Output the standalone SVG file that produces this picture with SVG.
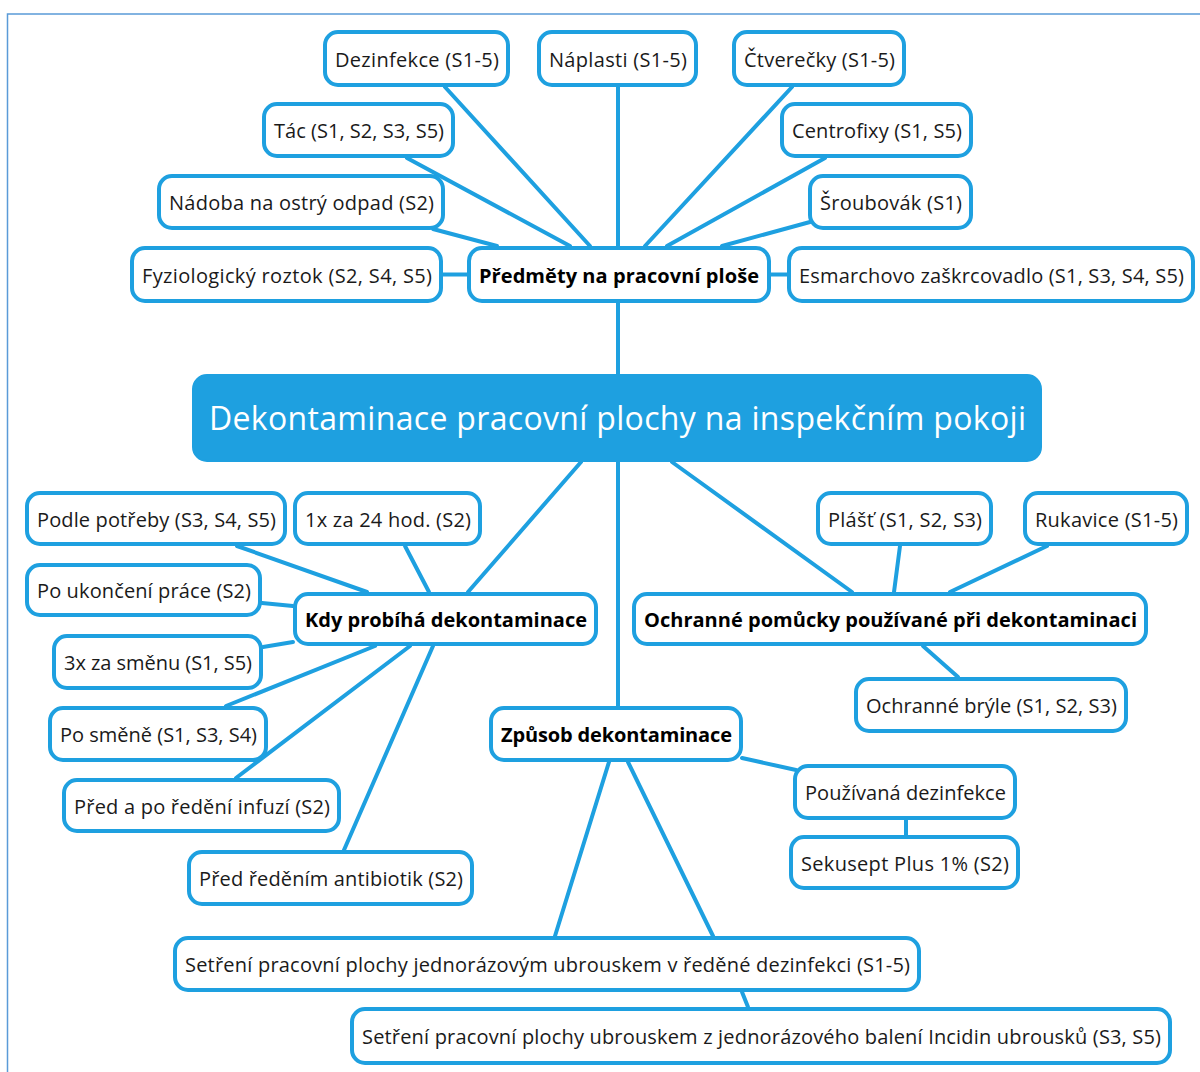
<svg xmlns="http://www.w3.org/2000/svg" width="1200" height="1072" viewBox="0 0 1200 1072">
<style>
.n rect{fill:#fff;stroke:#1ea0e0;stroke-width:4}
.n text{font-family:"Open Sans","Noto Sans",sans-serif;font-size:20px;fill:#1a1a1a;text-anchor:middle}
.n text.b{font-weight:bold;fill:#000}
#center rect{fill:#1ea0e0;stroke:#1ea0e0;stroke-width:2}
#center text{font-family:"Open Sans","Noto Sans",sans-serif;font-size:32px;fill:#fff;text-anchor:middle}
#connectors line{stroke:#1ea0e0;stroke-width:4;stroke-linecap:round}
</style>
<rect x="0" y="0" width="1200" height="1072" fill="#fff"/>
<rect x="7.5" y="14" width="1300" height="1200" fill="none" stroke="#5a9bd8" stroke-width="1.5"/>
<g id="connectors">
<line x1="445" y1="87" x2="590" y2="246"/>
<line x1="618" y1="87" x2="618" y2="246"/>
<line x1="792" y1="87" x2="645" y2="246"/>
<line x1="407" y1="158" x2="570" y2="246"/>
<line x1="825" y1="158" x2="667" y2="246"/>
<line x1="433" y1="229" x2="497" y2="246"/>
<line x1="810" y1="222" x2="722" y2="246"/>
<line x1="443" y1="274.5" x2="467" y2="274.5"/>
<line x1="771" y1="274.5" x2="787" y2="274.5"/>
<line x1="618" y1="303" x2="618" y2="374"/>
<line x1="581" y1="462" x2="468" y2="592"/>
<line x1="618" y1="462" x2="618" y2="706"/>
<line x1="672" y1="462" x2="852" y2="592"/>
<line x1="237" y1="546" x2="367" y2="592"/>
<line x1="405" y1="546" x2="429" y2="592"/>
<line x1="262" y1="603" x2="293" y2="606"/>
<line x1="263" y1="647" x2="293" y2="642"/>
<line x1="226" y1="706" x2="375" y2="646"/>
<line x1="236" y1="778" x2="410" y2="646"/>
<line x1="344" y1="850" x2="433" y2="646"/>
<line x1="900" y1="546" x2="894" y2="592"/>
<line x1="1047" y1="546" x2="950" y2="592"/>
<line x1="923" y1="646" x2="958" y2="677"/>
<line x1="742" y1="758" x2="796" y2="770"/>
<line x1="906" y1="820" x2="906" y2="835"/>
<line x1="609" y1="762" x2="555" y2="936"/>
<line x1="628" y1="762" x2="713" y2="936"/>
<line x1="742" y1="992" x2="748" y2="1007"/>
</g>
<g id="n-dezinfekce" class="n"><rect x="325" y="32" width="183" height="53" rx="13"/><text x="417" y="66.5" textLength="164">Dezinfekce (S1-5)</text></g>
<g id="n-naplasti" class="n"><rect x="539" y="32" width="157" height="53" rx="13"/><text x="618" y="66.5" textLength="138">Náplasti (S1-5)</text></g>
<g id="n-ctverecky" class="n"><rect x="734" y="32" width="170" height="53" rx="13"/><text x="819.5" y="66.5" textLength="151">Čtverečky (S1-5)</text></g>
<g id="n-tac" class="n"><rect x="264" y="104" width="189" height="52" rx="13"/><text x="359" y="138" textLength="170">Tác (S1, S2, S3, S5)</text></g>
<g id="n-centrofixy" class="n"><rect x="782" y="104" width="189" height="52" rx="13"/><text x="877" y="138" textLength="170">Centrofixy (S1, S5)</text></g>
<g id="n-nadoba" class="n"><rect x="159" y="176" width="284" height="52" rx="13"/><text x="301.5" y="210" textLength="265">Nádoba na ostrý odpad (S2)</text></g>
<g id="n-sroubovak" class="n"><rect x="810" y="176" width="161" height="52" rx="13"/><text x="891" y="210" textLength="142">Šroubovák (S1)</text></g>
<g id="n-fyziologicky" class="n"><rect x="132" y="248" width="309" height="53" rx="13"/><text x="287" y="282.5" textLength="290">Fyziologický roztok (S2, S4, S5)</text></g>
<g id="n-predmety" class="n"><rect x="469" y="248" width="300" height="53" rx="13"/><text class="b" x="619" y="282.5" textLength="280">Předměty na pracovní ploše</text></g>
<g id="n-esmarchovo" class="n"><rect x="789" y="248" width="404" height="53" rx="13"/><text x="991.5" y="282.5" textLength="385">Esmarchovo zaškrcovadlo (S1, S3, S4, S5)</text></g>
<g id="center"><rect x="193" y="375" width="848" height="86" rx="14"/><text x="617.5" y="430" textLength="817">Dekontaminace pracovní plochy na inspekčním pokoji</text></g>
<g id="n-podle" class="n"><rect x="27" y="493" width="258" height="51" rx="13"/><text x="156.5" y="526.5" textLength="239">Podle potřeby (S3, S4, S5)</text></g>
<g id="n-24hod" class="n"><rect x="295" y="493" width="185" height="51" rx="13"/><text x="388" y="526.5" textLength="166">1x za 24 hod. (S2)</text></g>
<g id="n-poukonceni" class="n"><rect x="27" y="565" width="233" height="50" rx="13"/><text x="144" y="598" textLength="214">Po ukončení práce (S2)</text></g>
<g id="n-kdy" class="n"><rect x="295" y="594" width="301" height="50" rx="13"/><text class="b" x="446" y="627" textLength="282">Kdy probíhá dekontaminace</text></g>
<g id="n-3x" class="n"><rect x="54" y="636" width="207" height="52" rx="13"/><text x="158" y="670" textLength="188">3x za směnu (S1, S5)</text></g>
<g id="n-posmene" class="n"><rect x="50" y="708" width="216" height="52" rx="13"/><text x="158.5" y="742" textLength="197">Po směně (S1, S3, S4)</text></g>
<g id="n-predapo" class="n"><rect x="64" y="780" width="275" height="51" rx="13"/><text x="202" y="813.5" textLength="256">Před a po ředění infuzí (S2)</text></g>
<g id="n-predredenim" class="n"><rect x="189" y="852" width="283" height="52" rx="13"/><text x="331" y="886" textLength="264">Před ředěním antibiotik (S2)</text></g>
<g id="n-plast" class="n"><rect x="818" y="493" width="173" height="51" rx="13"/><text x="905" y="526.5" textLength="154">Plášť (S1, S2, S3)</text></g>
<g id="n-rukavice" class="n"><rect x="1025" y="493" width="162" height="51" rx="13"/><text x="1106.5" y="526.5" textLength="143">Rukavice (S1-5)</text></g>
<g id="n-ochranne" class="n"><rect x="634" y="594" width="512" height="50" rx="13"/><text class="b" x="890.5" y="627" textLength="493">Ochranné pomůcky používané při dekontaminaci</text></g>
<g id="n-bryle" class="n"><rect x="856" y="679" width="270" height="52" rx="13"/><text x="991.5" y="713" textLength="251">Ochranné brýle (S1, S2, S3)</text></g>
<g id="n-zpusob" class="n"><rect x="491" y="708" width="250" height="52" rx="13"/><text class="b" x="616.5" y="742" textLength="231">Způsob dekontaminace</text></g>
<g id="n-pouzivana" class="n"><rect x="795" y="766" width="220" height="52" rx="13"/><text x="905.5" y="800" textLength="201">Používaná dezinfekce</text></g>
<g id="n-sekusept" class="n"><rect x="791" y="837" width="227" height="51" rx="13"/><text x="905" y="870.5" textLength="208">Sekusept Plus 1% (S2)</text></g>
<g id="n-setreni1" class="n"><rect x="175" y="938" width="744" height="52" rx="13"/><text x="547.5" y="972" textLength="725">Setření pracovní plochy jednorázovým ubrouskem v ředěné dezinfekci (S1-5)</text></g>
<g id="n-setreni2" class="n"><rect x="352" y="1009" width="818" height="54" rx="13"/><text x="761.5" y="1044" textLength="799">Setření pracovní plochy ubrouskem z jednorázového balení Incidin ubrousků (S3, S5)</text></g>
</svg>
